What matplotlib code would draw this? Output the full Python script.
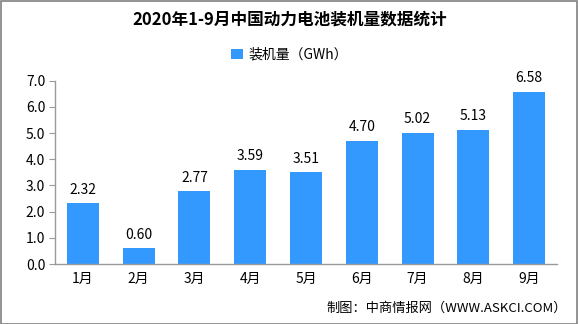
import matplotlib
matplotlib.use("Agg")
import matplotlib.pyplot as plt
from matplotlib.patches import Rectangle

plt.rcParams['font.family'] = ['Noto Sans CJK SC', 'DejaVu Sans']

categories = ['1月', '2月', '3月', '4月', '5月', '6月', '7月', '8月', '9月']
values = [2.32, 0.60, 2.77, 3.59, 3.51, 4.70, 5.02, 5.13, 6.58]
yticks = [0.0, 1.0, 2.0, 3.0, 4.0, 5.0, 6.0, 7.0]
title = '2020年1-9月中国动力电池装机量数据统计'
series_name = '装机量（GWh）'
source = '制图：中商情报网（WWW.ASKCI.COM）'

W, H = 579, 324
fig = plt.figure(figsize=(W/100, H/100), dpi=100)
fig.patch.set_facecolor('white')

# border
fig.patches.append(Rectangle((0.5/W, 0.5/H), 1 - 3/W, 1 - 1.5/H, transform=fig.transFigure,
                             fill=False, edgecolor='#808080', linewidth=1.2))

ax = fig.add_axes([55/W, 1 - 264/H, (557-55)/W, (264-80.7)/H])
x = list(range(len(categories)))
bars = ax.bar(x, values, width=0.575, color='#3399FF', label=series_name)
ax.set_xlim(-0.5, len(categories) - 0.5)
ax.set_ylim(0, 7.0)
ax.set_yticks(yticks)
ax.set_yticklabels([f'{v:.1f}' for v in yticks], fontsize=10)
ax.set_xticks(x)
ax.set_xticklabels(categories, fontsize=10)
for s in ['top', 'right']:
    ax.spines[s].set_visible(False)
for s in ['left', 'bottom']:
    ax.spines[s].set_color('#999999')
    ax.spines[s].set_linewidth(1)
ax.tick_params(axis='y', length=4, color='#999999', pad=3)
ax.tick_params(axis='x', length=0, pad=6)

for xi, v in zip(x, values):
    ax.text(xi, v + 0.25, f'{v:.2f}', ha='center', va='bottom', fontsize=10, color='#000000')

fig.text(0.5, 1 - 19/H, title, ha='center', va='center', fontsize=12, fontweight='bold')
leg = fig.legend(handles=[bars], labels=[series_name], loc='center', bbox_to_anchor=(0.5, 1 - 55/H),
                 frameon=False, fontsize=10, handlelength=0.8, handleheight=0.8, handletextpad=0.4)
fig.text(1 - 12/W, 1 - 308/H, source, ha='right', va='center', fontsize=9.5)

fig.savefig('out.png', dpi=100)
